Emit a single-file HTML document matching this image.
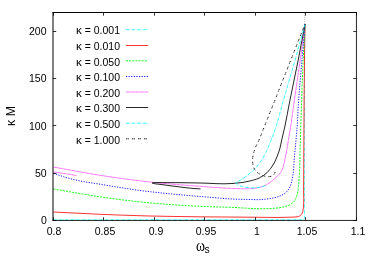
<!DOCTYPE html><html><head><meta charset="utf-8"><style>
html,body{margin:0;padding:0;background:#fff}
body{width:374px;height:262px;position:relative;overflow:hidden;font-family:"Liberation Sans",sans-serif;font-size:10.5px;color:#000}
.t{position:absolute;white-space:nowrap;line-height:1;will-change:transform}
</style></head><body>
<svg width="374" height="262" viewBox="0 0 374 262" style="position:absolute;left:0;top:0">
<path d="M53.5,219.8 H302.6 Q304.45,219.8 304.45,217.6 V90 L304.7,50 L305,24.3" fill="none" stroke="#00ffff" stroke-width="0.75" stroke-dasharray="3.4 0.9 0.5 0.9"/>
<path d="M53.50,212.00 C69.00,212.77 84.50,213.65 100.00,214.30 C116.66,215.00 133.33,215.58 150.00,216.00 C166.66,216.42 183.33,216.60 200.00,216.80 C216.67,217.00 233.33,217.14 250.00,217.20 C263.33,217.25 276.68,217.78 290.00,217.20 C292.00,217.11 294.03,217.22 296.00,216.90 C297.18,216.71 298.48,216.66 299.50,216.10 C300.25,215.69 300.97,215.07 301.50,214.40 C302.14,213.59 302.49,212.50 302.80,211.50 C303.25,210.07 303.24,208.50 303.40,207.00 C304.01,201.37 303.54,195.67 303.60,190.00 C303.73,176.67 303.72,163.33 303.80,150.00 C303.86,140.00 303.93,130.00 304.00,120.00 C304.07,110.00 304.12,100.00 304.20,90.00 C304.31,76.67 304.42,63.33 304.60,50.00 C304.71,41.43 304.87,32.87 305.00,24.30" fill="none" stroke="#ff0000" stroke-width="0.80"/>
<path d="M53.50,189.00 C69.00,191.60 84.45,194.54 100.00,196.80 C116.61,199.22 133.29,201.31 150.00,202.90 C166.62,204.48 183.32,205.49 200.00,206.30 C211.33,206.85 222.67,207.03 234.00,207.50 C242.67,207.86 251.33,208.74 260.00,208.70 C265.00,208.68 270.03,208.74 275.00,208.20 C277.68,207.91 280.38,207.61 283.00,207.00 C285.03,206.53 287.17,206.12 289.00,205.20 C291.04,204.17 293.14,202.69 294.50,200.90 C295.88,199.10 296.54,196.64 297.20,194.40 C297.96,191.83 298.18,189.08 298.50,186.40 C298.83,183.61 298.92,180.80 299.10,178.00 C299.92,165.35 300.00,152.67 300.40,140.00 C300.72,130.00 300.97,120.00 301.30,110.00 C301.83,94.00 302.38,77.99 303.10,62.00 C303.66,49.43 304.37,36.87 305.00,24.30" fill="none" stroke="#00ff00" stroke-width="0.90" stroke-dasharray="2 1.15"/>
<path d="M53.50,173.30 C57.67,174.70 61.78,176.27 66.00,177.50 C70.93,178.94 75.97,180.07 81.00,181.10 C87.28,182.39 93.67,183.16 100.00,184.20 C106.67,185.29 113.33,186.45 120.00,187.50 C126.66,188.55 133.32,189.63 140.00,190.50 C143.33,190.93 146.67,191.31 150.00,191.70 C166.63,193.63 183.32,195.10 200.00,196.50 C205.00,196.92 210.00,197.27 215.00,197.70 C218.33,197.99 221.66,198.36 225.00,198.60 C228.00,198.82 231.00,198.97 234.00,199.10 C239.33,199.34 244.67,199.42 250.00,199.50 C253.33,199.55 256.68,199.76 260.00,199.60 C263.21,199.45 266.43,199.13 269.60,198.60 C272.87,198.05 276.26,197.56 279.30,196.30 C281.54,195.37 283.91,194.29 285.70,192.70 C287.42,191.16 288.86,189.08 289.90,187.00 C290.98,184.86 291.40,182.35 292.00,180.00 C293.97,172.23 293.72,164.00 294.50,156.00 C295.02,150.67 295.52,145.34 296.00,140.00 C296.45,135.00 296.94,130.00 297.30,125.00 C297.81,118.01 297.97,111.00 298.40,104.00 C299.27,89.98 300.64,76.00 301.80,62.00 C302.84,49.43 303.93,36.87 305.00,24.30" fill="none" stroke="#0000ff" stroke-width="0.90" stroke-dasharray="1.2 1.4"/>
<path d="M53.50,167.00 C69.00,169.77 84.45,172.86 100.00,175.30 C116.61,177.91 133.29,180.16 150.00,182.00 C166.62,183.83 183.32,185.07 200.00,186.30 C210.66,187.08 221.32,187.96 232.00,188.40 C236.33,188.58 240.67,188.89 245.00,188.80 C248.34,188.73 251.71,188.70 255.00,188.20 C256.68,187.94 258.37,187.65 260.00,187.20 C262.19,186.60 264.40,185.85 266.40,184.80 C268.59,183.66 270.58,182.06 272.50,180.50 C275.58,178.00 278.80,175.25 280.90,172.00 C283.83,167.47 284.34,161.41 285.60,156.00 C286.83,150.73 287.49,145.34 288.40,140.00 C289.25,135.00 290.13,130.01 290.90,125.00 C291.98,118.02 292.82,111.00 293.80,104.00 C295.77,89.99 297.94,76.01 299.90,62.00 C301.66,49.44 303.30,36.87 305.00,24.30" fill="none" stroke="#ff00ff" stroke-width="0.55" stroke-dasharray="4.2 0.4"/>
<path d="M53.50,171.90 C57.33,172.47 61.17,172.99 65.00,173.60 C68.91,174.22 72.80,174.93 76.70,175.60" fill="none" stroke="#ff00ff" stroke-width="0.55" stroke-dasharray="4.2 0.4"/>
<path d="M200.50,188.90 C198.33,188.77 196.16,188.68 194.00,188.50 C192.67,188.39 191.33,188.23 190.00,188.10 C188.33,187.93 186.66,187.79 185.00,187.60 C182.66,187.34 180.33,187.00 178.00,186.70 C175.33,186.36 172.66,186.06 170.00,185.70 C168.33,185.48 166.67,185.23 165.00,185.00 C162.67,184.68 160.33,184.41 158.00,184.10 C156.50,183.90 154.95,183.91 153.50,183.50 C152.99,183.36 151.98,183.13 152.00,183.00 C152.02,182.87 153.00,182.78 153.50,182.70 C155.63,182.35 157.83,182.63 160.00,182.60 C173.33,182.44 186.67,182.83 200.00,183.00 C210.67,183.14 221.39,184.37 232.00,183.50 C237.35,183.06 242.77,182.60 248.00,181.40 C251.79,180.53 255.75,179.72 259.20,178.00 C262.10,176.55 264.95,174.63 267.30,172.40 C269.80,170.02 271.84,167.00 273.60,164.00 C275.07,161.48 276.22,158.73 277.30,156.00 C278.34,153.39 279.26,150.71 280.00,148.00 C280.72,145.37 281.12,142.66 281.70,140.00 C282.80,134.99 284.12,130.02 285.20,125.00 C286.70,118.04 287.83,110.99 289.20,104.00 C291.94,89.97 295.03,76.02 297.80,62.00 C300.28,49.45 302.60,36.87 305.00,24.30" fill="none" stroke="#000000" stroke-width="0.85"/>
<path d="M265.50,185.40 C264.50,185.80 263.52,186.27 262.50,186.60 C260.42,187.27 258.18,187.51 256.00,187.70 C253.35,187.93 250.64,187.91 248.00,187.60 C245.85,187.35 243.66,186.97 241.60,186.30 C240.20,185.84 238.61,185.53 237.50,184.60 C236.93,184.13 235.86,183.45 236.00,182.90 C236.09,182.56 236.64,182.20 237.00,181.90 C237.85,181.20 239.02,180.94 240.00,180.40 C242.85,178.84 245.45,176.81 248.00,174.80 C250.22,173.05 252.42,171.22 254.40,169.20 C256.63,166.92 258.69,164.43 260.50,161.80 C261.78,159.95 262.91,157.98 264.00,156.00 C265.08,154.04 266.05,152.02 267.00,150.00 C268.53,146.73 269.87,143.36 271.20,140.00 C273.15,135.06 274.96,130.05 276.60,125.00 C278.84,118.10 280.44,110.99 282.40,104.00 C286.33,89.97 290.53,76.02 294.50,62.00 C298.05,49.45 301.50,36.87 305.00,24.30" fill="none" stroke="#00ffff" stroke-width="0.80" stroke-dasharray="3.4 0.9 0.5 0.9"/>
<path d="M275.20,172.00 C274.93,172.63 274.77,173.34 274.40,173.90 C273.84,174.77 272.91,175.54 272.00,176.00 C270.84,176.58 269.32,176.59 268.00,176.60 C265.64,176.61 263.12,175.83 261.00,174.80 C258.67,173.66 256.20,171.89 254.80,169.80 C253.20,167.42 252.77,163.95 252.60,161.00 C252.39,157.36 253.42,153.53 254.50,150.00 C255.56,146.53 257.56,143.36 259.00,140.00 C261.13,135.05 263.00,130.00 265.00,125.00 C267.80,118.00 270.61,111.00 273.40,104.00 C278.97,90.02 284.45,75.99 290.00,62.00 C294.99,49.43 300.00,36.87 305.00,24.30" fill="none" stroke="#000000" stroke-width="0.90" stroke-dasharray="1.2 0.5 1.2 3.1"/>
<path d="M304.7,13 V24.5" fill="none" stroke="#000" stroke-opacity="0.35" stroke-width="0.7" stroke-dasharray="1.2 0.8"/>
<path d="M126,29.70 H148.2" fill="none" stroke="#00ffff" stroke-width="0.75" stroke-dasharray="3.4 0.9 0.5 0.9"/>
<path d="M126,45.50 H148.2" fill="none" stroke="#ff0000" stroke-width="0.80"/>
<path d="M126,60.80 H148.2" fill="none" stroke="#00ff00" stroke-width="0.90" stroke-dasharray="2 1.15"/>
<path d="M126,76.50 H148.2" fill="none" stroke="#0000ff" stroke-width="0.90" stroke-dasharray="1.2 1.4"/>
<path d="M126,92.00 H148.2" fill="none" stroke="#ff00ff" stroke-width="0.55" stroke-dasharray="4.2 0.4"/>
<path d="M126,107.50 H148.2" fill="none" stroke="#000000" stroke-width="0.85"/>
<path d="M126,123.20 H148.2" fill="none" stroke="#00ffff" stroke-width="0.80" stroke-dasharray="3.4 0.9 0.5 0.9"/>
<path d="M126,138.80 H148.2" fill="none" stroke="#000000" stroke-width="0.90" stroke-dasharray="1.2 0.5 1.2 3.1"/>
<path d="M53.0,12 V221" fill="none" stroke="#000" stroke-width="1"/>
<path d="M52.6,12.5 H356.8" fill="none" stroke="#000" stroke-width="1"/>
<path d="M356.45,12 V220.9 M52.6,220.45 H356.8" fill="none" stroke="#000" stroke-width="0.85"/>
<path d="M53.50,220.45 v-3.2 M53.50,12.50 v3.2 M103.50,220.45 v-3.2 M103.50,12.50 v3.2 M154.50,220.45 v-3.2 M154.50,12.50 v3.2 M204.50,220.45 v-3.2 M204.50,12.50 v3.2 M255.50,220.45 v-3.2 M255.50,12.50 v3.2 M305.50,220.45 v-3.2 M305.50,12.50 v3.2 M356.50,220.45 v-3.2 M356.50,12.50 v3.2 M53.00,220.50 h3.2 M356.45,220.50 h-3.2 M53.00,173.50 h3.2 M356.45,173.50 h-3.2 M53.00,125.50 h3.2 M356.45,125.50 h-3.2 M53.00,78.50 h3.2 M356.45,78.50 h-3.2 M53.00,31.50 h3.2 M356.45,31.50 h-3.2 " fill="none" stroke="#000" stroke-width="0.8"/>
</svg>
<div class="t" style="right:254.1px;top:23.70px"><span style="font-size:11.6px">κ</span> = 0.001</div>
<div class="t" style="right:254.1px;top:39.70px"><span style="font-size:11.6px">κ</span> = 0.010</div>
<div class="t" style="right:254.1px;top:55.70px"><span style="font-size:11.6px">κ</span> = 0.050</div>
<div class="t" style="right:254.1px;top:70.70px"><span style="font-size:11.6px">κ</span> = 0.100</div>
<div class="t" style="right:254.1px;top:86.70px"><span style="font-size:11.6px">κ</span> = 0.200</div>
<div class="t" style="right:254.1px;top:101.70px"><span style="font-size:11.6px">κ</span> = 0.300</div>
<div class="t" style="right:254.1px;top:117.70px"><span style="font-size:11.6px">κ</span> = 0.500</div>
<div class="t" style="right:254.1px;top:133.70px"><span style="font-size:11.6px">κ</span> = 1.000</div>
<div class="t" style="right:327.2px;top:214.70px">0</div>
<div class="t" style="right:327.2px;top:167.70px">50</div>
<div class="t" style="right:327.2px;top:120.70px">100</div>
<div class="t" style="right:327.2px;top:72.70px">150</div>
<div class="t" style="right:327.2px;top:25.70px">200</div>
<div class="t" style="left:39.4px;top:225.60px;width:30px;text-align:center;font-size:10.5px">0.8</div>
<div class="t" style="left:90.0px;top:225.60px;width:30px;text-align:center;font-size:10.5px">0.85</div>
<div class="t" style="left:140.5px;top:225.60px;width:30px;text-align:center;font-size:10.5px">0.9</div>
<div class="t" style="left:191.1px;top:225.60px;width:30px;text-align:center;font-size:10.5px">0.95</div>
<div class="t" style="left:241.6px;top:225.60px;width:30px;text-align:center;font-size:10.5px">1</div>
<div class="t" style="left:292.2px;top:225.60px;width:30px;text-align:center;font-size:10.5px">1.05</div>
<div class="t" style="left:342.8px;top:225.60px;width:30px;text-align:center;font-size:10.5px">1.1</div>
<div class="t" style="left:196.4px;top:237.7px;font-size:11.3px"><span style="display:inline-block;font-family:'Liberation Serif',serif;font-size:16.5px;transform:scale(0.83,1.0);transform-origin:0 100%">ω</span><span style="font-size:10.3px;position:relative;top:2.2px;left:-2.3px">s</span></div>
<div class="t" style="left:4.8px;top:126.4px;font-size:12.3px;transform-origin:0 0;transform:rotate(-90deg);word-spacing:0.3px">κ M</div>
</body></html>
